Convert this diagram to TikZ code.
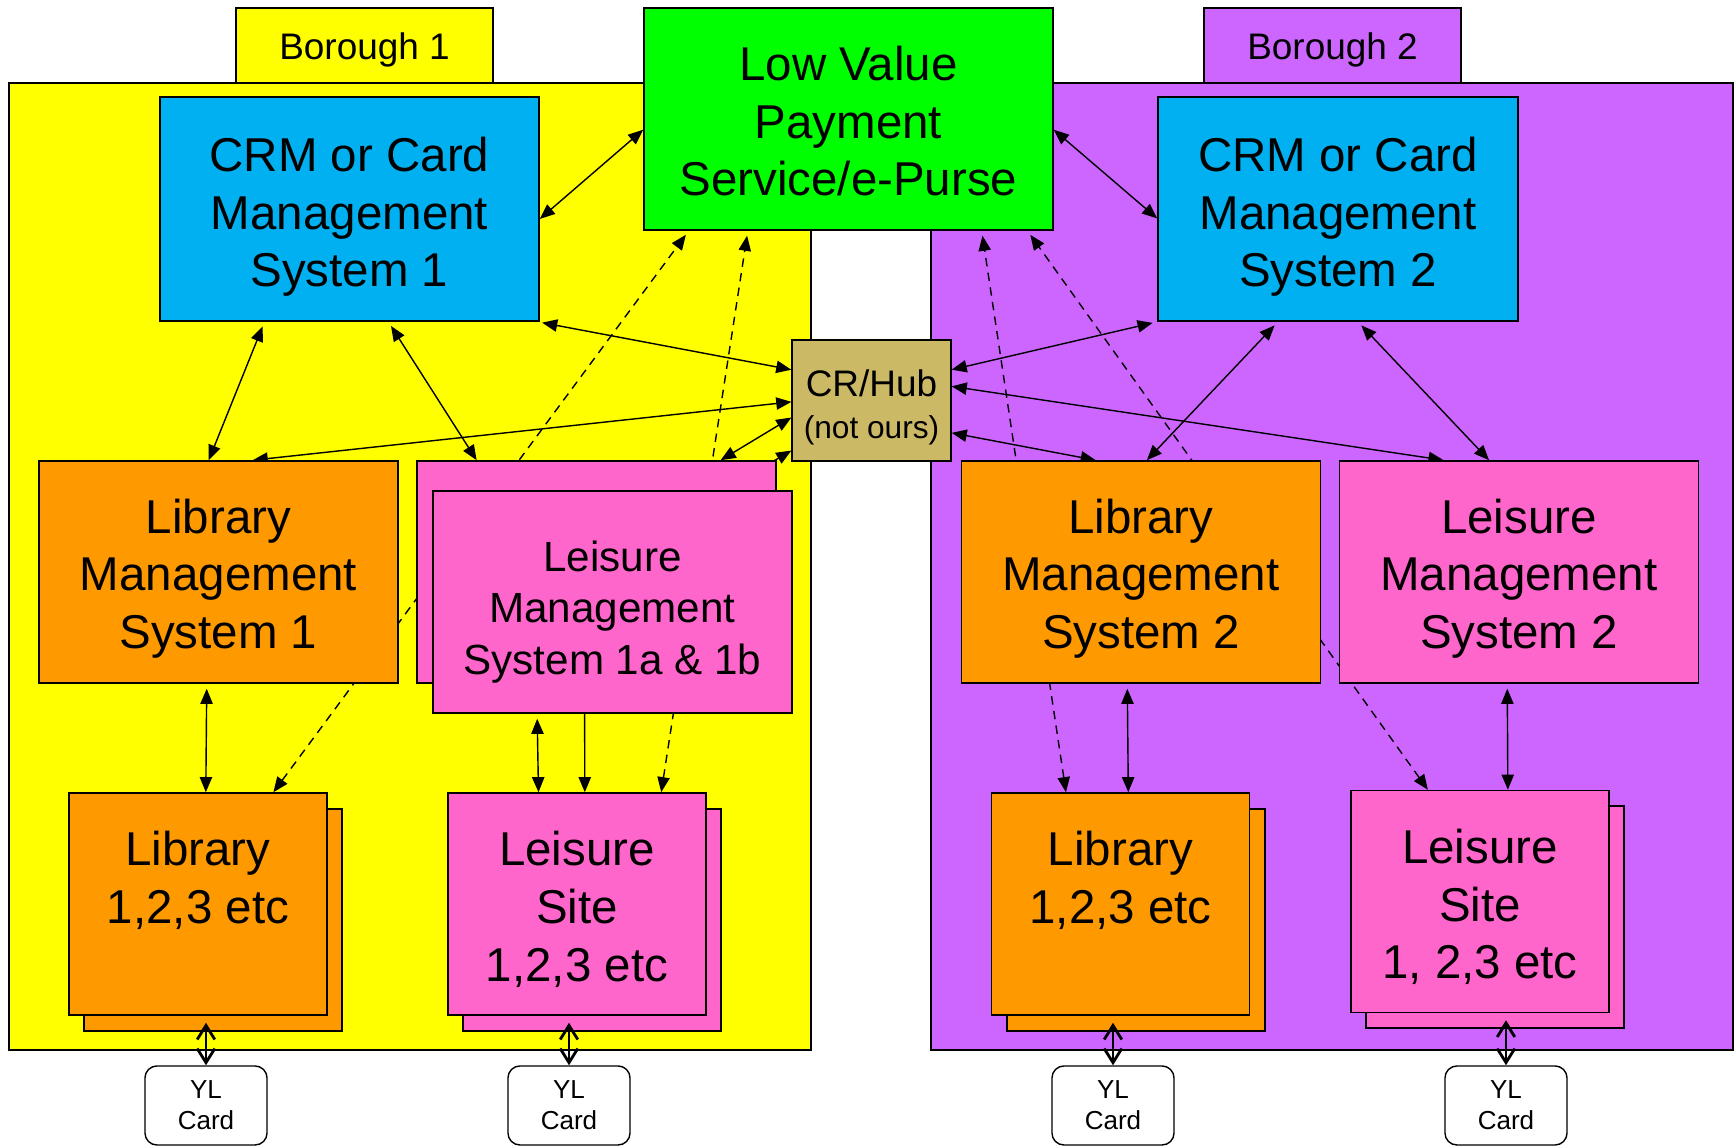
\documentclass[tikz,border=0pt]{standalone}
\usepackage{fontspec}
\setmainfont{Liberation Sans}
\usetikzlibrary{arrows.meta}

\definecolor{boroughyellow}{HTML}{FFFF00}
\definecolor{boroughpurple}{HTML}{CC66FF}
\definecolor{crmblue}{HTML}{00B0F0}
\definecolor{paygreen}{HTML}{00FF00}
\definecolor{liborange}{HTML}{FF9900}
\definecolor{leispink}{HTML}{FF66CC}
\definecolor{hubtan}{RGB}{204,185,102}

\pgfdeclarelayer{bg}
\pgfdeclarelayer{links}
\pgfsetlayers{bg,links,main}

\begin{document}
\begin{tikzpicture}
        [
        x=0.01cm, y=-0.01cm,
        align=center,
        line width=0.6pt,
        >={Triangle[length=4.3pt,width=3.5pt]},
        sys/.style={rectangle, draw=black, font=\fontsize{13.5}{16.4}\selectfont, text height=46.3pt},
        wide/.style={minimum width=3.59cm, minimum height=2.22cm},
        site/.style={minimum width=2.58cm, minimum height=2.22cm, text height=45.7pt},
        tab/.style={rectangle, draw=black, font=\fontsize{10.5}{12}\selectfont, text height=10.1pt, minimum width=2.57cm, minimum height=0.75cm},
        card/.style={rectangle, rounded corners=0.12cm, draw=black, fill=white, font=\fontsize{7.4}{8.8}\selectfont, minimum width=1.22cm, minimum height=0.79cm},
        feed/.style={dash pattern=on 2.4pt off 1.8pt, shorten >=0.05cm},
        cardlink/.style={>={Straight Barb[length=4pt,width=5pt,line width=0.8pt]}, <->},
        ]
                % boroughs
                \begin{pgfonlayer}{bg}
                \draw[fill=boroughyellow] (9,83) rectangle (811,1050);
                \draw[fill=boroughpurple] (931,83) rectangle (1733,1050);
                \end{pgfonlayer}
                \node[tab, fill=boroughyellow] (tab1) at (364.5,45.5) {Borough 1};
                \node[tab, fill=boroughpurple] (tab2) at (1332.5,45.5) {Borough 2};

                % central systems
                \node[sys, fill=paygreen, minimum width=4.09cm, minimum height=2.22cm, text height=43.8pt] (lowval) at (848.5,119) {Low Value\\Payment\\Service/e-Purse};
                \node[sys, fill=hubtan, minimum width=1.51cm, minimum height=1.21cm, font=\fontsize{10.5}{12}\selectfont, text height=23.5pt] (hub) at (871.5,400.5) {CR/Hub\\\fontsize{9}{12}\selectfont(not ours)};

                % borough 1
                \node[sys, fill=crmblue, minimum width=3.79cm, minimum height=2.24cm, text height=47pt] (crm1) at (349.5,209) {CRM or Card\\Management\\System 1};
                \node[sys, wide, fill=liborange] (lms1) at (218.5,572) {Library\\Management\\System 1};
                \node[sys, wide, fill=leispink] (leis1b) at (596.5,572) {};
                \node[sys, wide, fill=leispink, font=\fontsize{12}{14.7}\selectfont, text height=43.7pt] (leis1) at (612.5,602) {Leisure\\Management\\System 1a \& 1b};
                \node[sys, site, fill=liborange] (lib1b) at (213,920) {};
                \node[sys, site, fill=liborange, text height=43.7pt] (lib1) at (198,904) {Library\\1,2,3 etc\\\mbox{}};
                \node[sys, site, fill=leispink] (site1b) at (592,920) {};
                \node[sys, site, fill=leispink] (site1) at (577,904) {Leisure\\Site\\1,2,3 etc};

                % borough 2
                \node[sys, fill=crmblue, minimum width=3.6cm, minimum height=2.24cm, text height=47pt] (crm2) at (1338,209) {CRM or Card\\Management\\System 2};
                \node[sys, wide, fill=liborange] (lms2) at (1141,572) {Library\\Management\\System 2};
                \node[sys, wide, fill=leispink] (leisms2) at (1519,572) {Leisure\\Management\\System 2};
                \node[sys, site, fill=liborange] (lib2b) at (1136,920) {};
                \node[sys, site, fill=liborange, text height=43.7pt] (lib2) at (1120.5,904) {Library\\1,2,3 etc\\\mbox{}};
                \node[sys, site, fill=leispink] (site2b) at (1495,917) {};
                \node[sys, site, fill=leispink] (site2) at (1480,901.5) {Leisure\\Site\\1, 2,3 etc};

                % cards
                \node[card] (card1) at (206,1105.5) {YL\\Card};
                \node[card] (card2) at (569,1105.5) {YL\\Card};
                \node[card] (card3) at (1113,1105.5) {YL\\Card};
                \node[card] (card4) at (1506,1105.5) {YL\\Card};

                % drawing code
                \begin{pgfonlayer}{links}
                \foreach \from/\to in {crm1.-3/lowval.183,lms1.73/hub.181,leis1b.42/hub.192,leis1.45/hub.212,lowval.-3/crm2.183,hub.10/leisms2.124,hub.-22/lms2.112} \draw[<->] (\from) -- (\to);
                \foreach \from/\to in {crm1.-127/lms1.95,crm1.-71/leis1b.137,crm1.-31/hub.159,crm2.-148/hub.21,crm2.-118/lms2.87,crm2.-80/leisms2.105,lms1.-96/lib1.86,leis1.-124/site1.109,lms2.-97/lib2.86,leisms2.-96/site2.76} \draw[<->, shorten <=0.05cm] (\from) -- (\to);
                \draw[->] (leis1.-104) -- (site1.86);
                \foreach \from/\to in {lib1.56/lowval.215,site1.53/lowval.228,lib2.116/lowval.-40,site2.115/lowval.-32} \draw[<->, feed] (\from) -- (\to);
                \end{pgfonlayer}
                \foreach \c/\b in {card1/lib1,card2/site1,card3/lib2,card4/site2} \draw[cardlink, shorten >=0.07cm] (\c.north) -- (\c.north |- \b.south);

                \useasboundingbox (0,0) rectangle (1735,1140);
        \end{tikzpicture}
\end{document}
